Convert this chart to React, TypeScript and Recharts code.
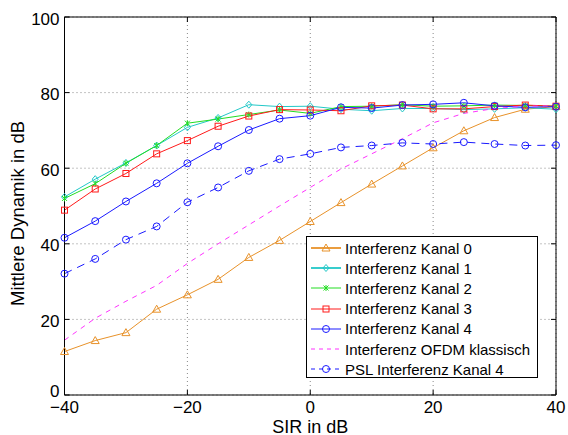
import { LineChart, Line, XAxis, YAxis, CartesianGrid, ReferenceLine } from "recharts";

const sir = [-40, -35, -30, -25, -20, -15, -10, -5, 0, 5, 10, 15, 20, 25, 30, 35, 40];
const kanal0 = [11.5, 14.4, 16.5, 22.7, 26.5, 30.6, 36.4, 40.9, 45.9, 50.9, 55.8, 60.6, 65.4, 69.9, 73.4, 75.6, 76.3];
const kanal1 = [52.4, 57.1, 61.4, 66, 70.8, 73.3, 76.8, 76.3, 76.4, 75.6, 75.2, 75.8, 75.8, 75.5, 75.7, 76, 75.6];
const kanal2 = [52, 55.9, 61.3, 66, 71.9, 73, 74.2, 75.4, 74.5, 76.3, 76.4, 76.8, 76.4, 76.5, 76.7, 76.6, 76.4];
const kanal3 = [48.9, 54.5, 58.6, 63.8, 67.3, 71.1, 73.8, 75.5, 75.4, 75.2, 76.5, 76.7, 75.7, 75.7, 76.3, 76.7, 76.4];
const kanal4 = [41.6, 46, 51.2, 56, 61.3, 65.8, 70.1, 73.1, 73.9, 76.1, 75.9, 76.7, 76.9, 77.3, 76.5, 76.1, 76.3];
const ofdm = [14.5, 20.3, 24.8, 29, 34.8, 40, 45, 50, 54.9, 59.8, 63.8, 67.8, 72, 74.5, 75.8, 76.4, 76.5];
const psl4 = [32.1, 36, 41.1, 44.6, 51, 54.9, 59.3, 62.4, 63.8, 65.5, 66, 66.7, 66.4, 66.9, 66.4, 66, 66.1];

const xTicks = [-40, -20, 0, 20, 40];
const yTicks = [0, 20, 40, 60, 80, 100];

const data = sir.map((s, i) => ({
  sir: s,
  k0: kanal0[i],
  k1: kanal1[i],
  k2: kanal2[i],
  k3: kanal3[i],
  k4: kanal4[i],
  ofdm: ofdm[i],
  psl: psl4[i],
}));

const FONT = "'Liberation Sans', Arial, Helvetica, sans-serif";

type Marker = "tri" | "dia" | "star" | "sq" | "circ" | "none";

function markerShape(kind: Marker, cx: number, cy: number, color: string, key?: string | number) {
  const r = 3.5;
  if (kind === "tri")
    return <polygon key={key} points={`${cx},${cy - r - 0.5} ${cx - r - 0.5},${cy + r - 0.5} ${cx + r + 0.5},${cy + r - 0.5}`} fill="none" stroke={color} strokeWidth={1} />;
  if (kind === "dia")
    return <polygon key={key} points={`${cx},${cy - r} ${cx + 3},${cy} ${cx},${cy + r} ${cx - 3},${cy}`} fill="none" stroke={color} strokeWidth={1} />;
  if (kind === "star")
    return (
      <g key={key} stroke={color} strokeWidth={1}>
        <line x1={cx - 2.5} y1={cy - 2.5} x2={cx + 2.5} y2={cy + 2.5} />
        <line x1={cx - 2.5} y1={cy + 2.5} x2={cx + 2.5} y2={cy - 2.5} />
        <line x1={cx} y1={cy - 3} x2={cx} y2={cy + 3} />
      </g>
    );
  if (kind === "sq")
    return <rect key={key} x={cx - 3} y={cy - 3} width={6} height={6} fill="none" stroke={color} strokeWidth={1} />;
  if (kind === "circ")
    return <circle key={key} cx={cx} cy={cy} r={3.5} fill="none" stroke={color} strokeWidth={1} />;
  return <g key={key} />;
}

const series: { key: string; name: string; color: string; marker: Marker; dash?: string }[] = [
  { key: "k0", name: "Interferenz Kanal 0", color: "#e8922a", marker: "tri" },
  { key: "k1", name: "Interferenz Kanal 1", color: "#22c8c8", marker: "dia" },
  { key: "k2", name: "Interferenz Kanal 2", color: "#22dd22", marker: "star" },
  { key: "k3", name: "Interferenz Kanal 3", color: "#ff1a1a", marker: "sq" },
  { key: "k4", name: "Interferenz Kanal 4", color: "#1a1aff", marker: "circ" },
  { key: "ofdm", name: "Interferenz OFDM klassisch", color: "#ff33ff", marker: "none", dash: "5 5" },
  { key: "psl", name: "PSL Interferenz Kanal 4", color: "#1a1aff", marker: "circ", dash: "8 6" },
];

const XTick = (props: any) => {
  const { x, y, payload } = props;
  return (
    <g>
      <line x1={x} y1={y} x2={x} y2={y - 5} stroke="#000" />
      <line x1={x} y1={17} x2={x} y2={22} stroke="#000" />
      <text x={x} y={y + 18} textAnchor="middle" fontSize={17} fontFamily={FONT} fill="#000">
        {payload.value < 0 ? `\u2212${Math.abs(payload.value)}` : payload.value}
      </text>
    </g>
  );
};

const YTick = (props: any) => {
  const { x, y, payload } = props;
  // matlab lifts the bottom label a bit
  const shift = payload.value === 0 ? -4 : 1.5;
  return (
    <g>
      <line x1={x} y1={y} x2={x + 5} y2={y} stroke="#000" />
      <line x1={556} y1={y} x2={551} y2={y} stroke="#000" />
      <text x={x - 5} y={y + 6 + shift} textAnchor="end" fontSize={17} fontFamily={FONT} fill="#000">
        {payload.value}
      </text>
    </g>
  );
};

const LegendBox = () => (
  <div
    style={{
      position: "absolute",
      left: 306,
      top: 236,
      width: 232,
      height: 142,
      border: "1px solid #000",
      background: "#fff",
      boxSizing: "border-box",
      paddingTop: 1,
    }}
  >
    {series.map((s) => (
      <div key={s.key} style={{ display: "flex", alignItems: "center", height: 20.2 }}>
        <svg width={38} height={14} style={{ flex: "none" }}>
          <line x1={4} y1={7} x2={34} y2={7} stroke={s.color} strokeWidth={s.key === "k0" || s.key === "k1" ? 1.8 : 1} strokeDasharray={s.dash ? "4 4" : undefined} />
          {markerShape(s.marker, 19, 7, s.color)}
        </svg>
        <span style={{ fontFamily: FONT, fontSize: 15, color: "#000", whiteSpace: "nowrap" }}>{s.name}</span>
      </div>
    ))}
  </div>
);

export default function App() {
  return (
    <div style={{ position: "absolute", left: 0, top: 0, width: 568, height: 435, background: "#fff" }}>
      <LineChart width={568} height={435} data={data} margin={{ top: 17, right: 12, bottom: 0, left: 0 }}>
        <CartesianGrid stroke="#888" strokeDasharray="1 3" />
        <XAxis
          dataKey="sir"
          type="number"
          domain={[-40, 40]}
          ticks={xTicks}
          height={40}
          tickSize={0}
          tickMargin={0}
          axisLine={{ stroke: "#000" }}
          tick={<XTick />}
          interval={0}
          label={{ value: "SIR in dB", position: "insideBottom", offset: 0, dy: -2.5, fontSize: 18, fontFamily: FONT, fill: "#000" }}
        />
        <YAxis
          type="number"
          domain={[0, 100]}
          ticks={yTicks}
          width={64.5}
          tickSize={0}
          tickMargin={0}
          axisLine={{ stroke: "#000" }}
          tick={<YTick />}
          interval={0}
          label={{ value: "Mittlere Dynamik in dB", angle: -90, position: "insideLeft", dx: 12, dy: 100, fontSize: 18.5, fontFamily: FONT, fill: "#000" }}
        />
        <ReferenceLine y={100} stroke="#000" />
        <ReferenceLine x={40} stroke="#000" />
        {series.map((s) => (
          <Line
            key={s.key}
            dataKey={s.key}
            name={s.name}
            stroke={s.color}
            strokeWidth={1}
            strokeDasharray={s.dash}
            isAnimationActive={false}
            dot={(p: any) => markerShape(s.marker, p.cx, p.cy, s.color, p.key ?? `${s.key}-${p.index}`)}
            activeDot={false}
          />
        ))}
      </LineChart>
      <LegendBox />
    </div>
  );
}
